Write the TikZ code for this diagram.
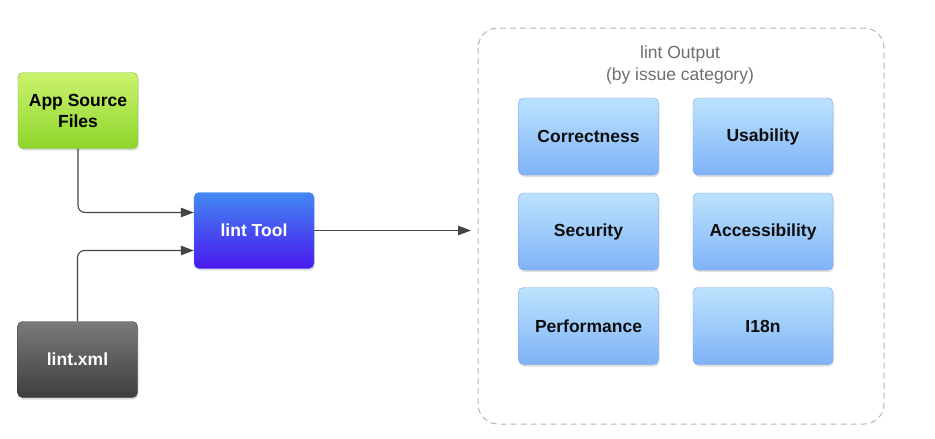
\documentclass[tikz,border=0pt]{standalone}
\usepackage{fontspec}
\setmainfont{Liberation Sans}
\usetikzlibrary{arrows.meta,shadows}
\definecolor{greenTop}{HTML}{CBF26E}
\definecolor{greenBot}{HTML}{8ED62C}
\definecolor{greenLine}{HTML}{7FBF3A}
\definecolor{grayTop}{HTML}{7A7A7A}
\definecolor{grayBot}{HTML}{3E3E3E}
\definecolor{toolTop}{HTML}{4289F2}
\definecolor{toolBot}{HTML}{4A17EE}
\definecolor{catTop}{HTML}{BCE3FD}
\definecolor{catBot}{HTML}{7FB2F8}
\definecolor{catLine}{HTML}{7E9BF2}
\definecolor{wire}{HTML}{454545}
\definecolor{frameLine}{HTML}{B4B4B4}
\definecolor{titleText}{HTML}{6E6E6E}
\tikzset{
  box/.style={rounded corners=5pt, minimum width=120pt, minimum height=76pt,
    align=center, font=\fontsize{17.5}{21}\selectfont\bfseries,
    drop shadow={shadow xshift=1pt, shadow yshift=-2pt, opacity=0.25}},
  srcbox/.style={box, draw=greenLine, top color=greenTop, bottom color=greenBot, text=black},
  cfgbox/.style={box, draw=grayBot, top color=grayTop, bottom color=grayBot, text=white},
  toolbox/.style={box, draw=toolTop, top color=toolTop, bottom color=toolBot, text=white},
  catbox/.style={box, minimum width=140pt, minimum height=77pt, draw=catLine,
    top color=catTop, bottom color=catBot, text=black!95},
  wireline/.style={draw=wire, line width=1.1pt, rounded corners=7pt,
    -{Triangle[length=13pt,width=9.5pt]}},
  outframe/.style={draw=frameLine, line width=1pt, dash pattern=on 6pt off 4pt, rounded corners=20pt}
}
\begin{document}
\begin{tikzpicture}[x=1pt,y=-1pt]
  \useasboundingbox (0,0) rectangle (935,439);

  % inputs and the tool
  \node[srcbox]  (src)  at (78,110.5)  {App Source\\Files};
  \node[cfgbox]  (cfg)  at (77.5,359.5) {lint.xml};
  \node[toolbox] (tool) at (254,230.5) {lint Tool};

  % output group
  \draw[outframe] (478,28) rectangle (884,424);
  \node[font=\fontsize{17.5}{22}\selectfont, text=titleText, align=center] (title)
    at (680,65) {lint Output\\(by issue category)};

  \node[catbox] (corr) at (588.5,136.5) {Correctness};
  \node[catbox] (usab) at (763,136.5)   {Usability};
  \node[catbox] (secu) at (588.5,231.5) {Security};
  \node[catbox] (acce) at (763,231.5)   {Accessibility};
  \node[catbox] (perf) at (588.5,326)   {Performance};
  \node[catbox] (i18n) at (763,326)     {I18n};

  % connectors
  \coordinate (outtip) at (471,230.5);
  \draw[wireline] (src.south) |- ([yshift=18pt]tool.west);
  \draw[wireline] (cfg.north) |- ([yshift=-20pt]tool.west);
  \draw[wireline] (tool.east) -- (outtip);
\end{tikzpicture}
\end{document}
